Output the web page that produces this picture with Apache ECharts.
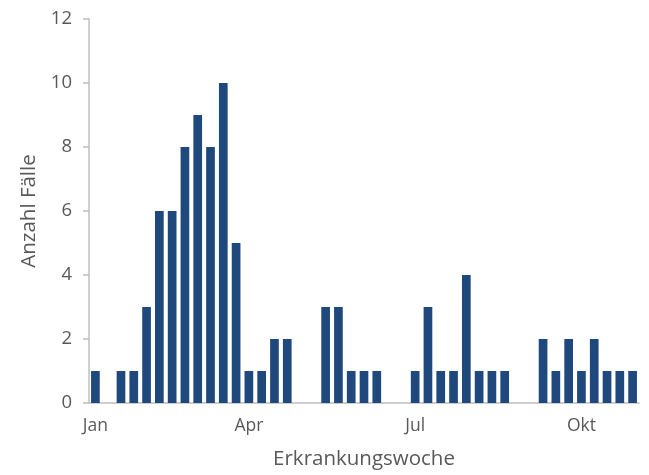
<!DOCTYPE html>
<html>
<head>
<meta charset="utf-8">
<script src="https://cdn.jsdelivr.net/npm/echarts@6/dist/echarts.min.js"></script>
<style>html,body{margin:0;padding:0;background:#fff}#c{width:649px;height:475px}</style>
</head>
<body>
<div id="c"></div>
<script>
const weeks = Array.from({length: 43}, (_, i) => String(i + 1));
const cases = [1,0,1,1,3,6,6,8,9,8,10,5,1,1,2,2,0,0,3,3,1,1,1,0,0,1,3,1,1,4,1,1,1,0,0,2,1,2,1,2,1,1,1];
const monthTickIndex = [0, 12, 25, 38];
const monthTickLabels = ['Jan', 'Apr', 'Jul', 'Okt'];
const yTicks = [0, 2, 4, 6, 8, 10, 12];

const font = 'Open Sans';
const chart = echarts.init(document.getElementById('c'), null, {renderer: 'canvas'});
chart.setOption({
  animation: false,
  grid: {left: 89, right: 10, top: 19, bottom: 72, containLabel: false},
  xAxis: {
    type: 'category',
    data: weeks,
    name: 'Erkrankungswoche',
    nameLocation: 'middle',
    nameGap: 46,
    nameTextStyle: {color: '#595959', fontSize: 20.5, fontFamily: font},
    axisLine: {lineStyle: {color: '#bfbfbf', width: 1.5}},
    axisTick: {show: false},
    axisLabel: {
      interval: 0,
      color: '#595959', fontSize: 17.5, fontFamily: font, margin: 14,
      formatter: (v, i) => {
        const k = monthTickIndex.indexOf(i);
        return k >= 0 ? monthTickLabels[k] : '';
      }
    },
    splitLine: {show: false}
  },
  yAxis: {
    type: 'value',
    min: yTicks[0],
    max: yTicks[yTicks.length - 1],
    interval: 2,
    name: 'Anzahl Fälle',
    nameLocation: 'middle',
    nameGap: 48,
    nameTextStyle: {color: '#595959', fontSize: 20.5, fontFamily: font},
    axisLine: {show: true, lineStyle: {color: '#bfbfbf', width: 1.5}},
    axisTick: {show: true, length: 6, lineStyle: {color: '#bfbfbf', width: 1.5}},
    axisLabel: {color: '#595959', fontSize: 18.5, fontFamily: font, margin: 17},
    splitLine: {show: false}
  },
  series: [{
    type: 'bar',
    data: cases,
    barCategoryGap: '32%',
    itemStyle: {color: '#1F497D'}
  }]
});
</script>
</body>
</html>
